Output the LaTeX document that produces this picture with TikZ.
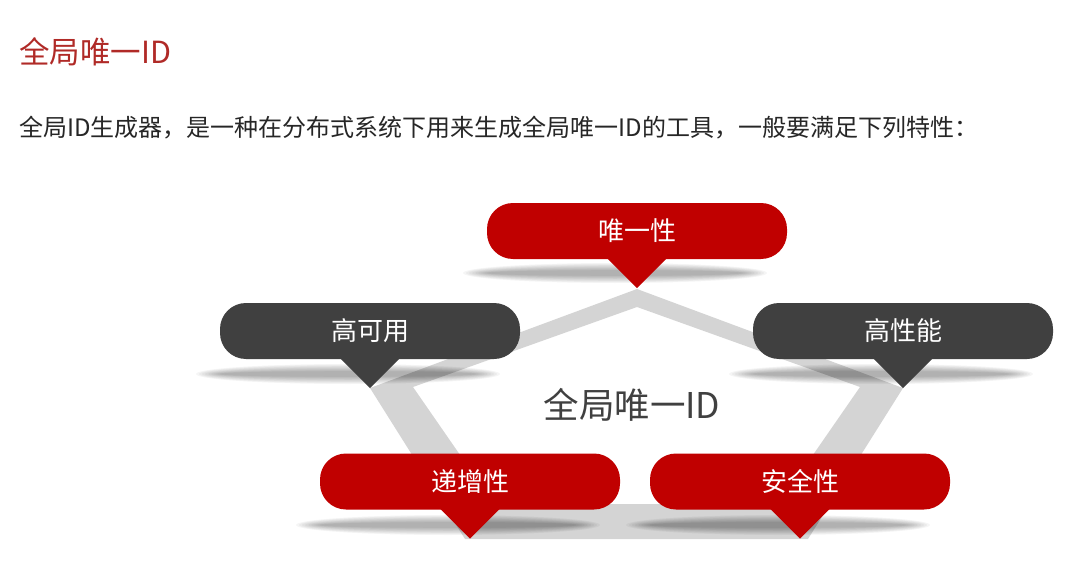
\documentclass[tikz,border=0pt]{standalone}
\usepackage{fontspec}
\setmainfont{Noto Sans CJK SC}
\usepackage{xcolor}
\usepackage{tikz}
\definecolor{idred}{HTML}{C00000}
\definecolor{iddark}{HTML}{404040}
\definecolor{idtitle}{HTML}{B02A27}
\definecolor{idband}{HTML}{D4D4D4}

\begin{document}
\begin{tikzpicture}[x=1pt,y=-1pt,
  tag/.style={rounded corners=26pt, minimum width=300pt, minimum height=56pt, inner sep=0pt, text=white, font=\fontsize{26}{30}\selectfont},
  redtag/.style={tag, fill=idred},
  darktag/.style={tag, fill=iddark}]
\useasboundingbox (0,0) rectangle (1090,583);
% heading and intro line
\node[anchor=west, inner sep=0pt, text=idtitle, font=\fontsize{30.5}{35}\selectfont] (title) at (19,52) {全局唯一ID};
\node[anchor=west, inner sep=0pt, text=black!85, font=\fontsize{24}{28}\selectfont] (intro) at (19,128) {全局ID生成器，是一种在分布式系统下用来生成全局唯一ID的工具，一般要满足下列特性：};
% grey pentagon band
\fill[idband, even odd rule] (637,289) -- (370,388) -- (465,539) -- (808,539) -- (903,388) -- cycle
  (637,307) -- (413,387) -- (494,504) -- (779,504) -- (860,387) -- cycle;
% soft shadows under the tags
\foreach \cx/\cy in {615/273, 348/374, 881/374, 448/525, 778/525}
  \foreach \k in {0,...,8}
    \fill[black, opacity=0.04] (\cx,\cy) ellipse ({152pt-3pt*\k} and {10pt-0.9pt*\k});
% tags
\node[redtag] (weiyi) at (637,231) {唯一性};
\node[darktag] (gaoky) at (370,331) {高可用};
\node[darktag] (gaoxn) at (903,331) {高性能};
\node[redtag] (dizeng) at (470,481.5) {递增性};
\node[redtag] (anquan) at (800,481.5) {安全性};
\foreach \n/\c in {weiyi/idred, gaoky/iddark, gaoxn/iddark, dizeng/idred, anquan/idred}
  \fill[\c] ([xshift=-30pt,yshift=1pt]\n.south) -- ([xshift=30pt,yshift=1pt]\n.south) -- ([yshift=-29pt]\n.south) -- cycle;
% centre label
\node[text=iddark, font=\fontsize{35.5}{40}\selectfont] (centre) at (632,405) {全局唯一ID};
\end{tikzpicture}
\end{document}
